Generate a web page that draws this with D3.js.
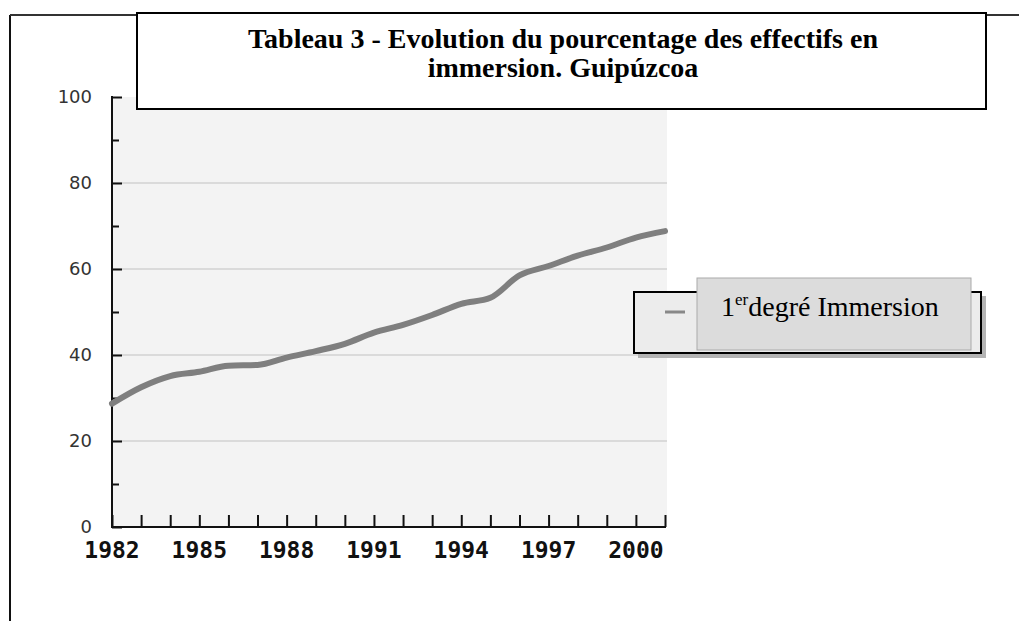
<!DOCTYPE html>
<html>
<head>
<meta charset="utf-8">
<script src="https://cdn.jsdelivr.net/npm/d3@7"></script>
<style>
  body { margin: 0; background: #fff; }
  svg { display: block; }
</style>
</head>
<body>
<div id="chart"></div>
<script>
const years = [1982, 1983, 1984, 1985, 1986, 1987, 1988, 1989, 1990, 1991,
  1992, 1993, 1994, 1995, 1996, 1997, 1998, 1999, 2000, 2001];
const immersion = [28.7, 32.5, 35.1, 36.1, 37.5, 37.7, 39.4, 40.9, 42.6, 45.2,
  47.0, 49.3, 51.9, 53.3, 58.5, 60.7, 63.1, 65.0, 67.3, 68.8];
const yearLabels = [1982, 1985, 1988, 1991, 1994, 1997, 2000];
const yTicks = [0, 20, 40, 60, 80, 100];
const gridValues = [20, 40, 60, 80];
const titleLines = ['Tableau 3 - Evolution du pourcentage des effectifs en', 'immersion. Guipúzcoa'];
const legendLabel = 'degré Immersion';

document.addEventListener('DOMContentLoaded', function(){
  drawChart();
});

function drawChart() {
  const width = 1019, height = 621;
  const plot = {left: 112, right: 665, top: 97, bottom: 527};

  const svg = d3.select('#chart').append('svg')
    .attr('width', width)
    .attr('height', height);

  // page frame
  svg.append('line').attr('x1', 10).attr('x2', 10).attr('y1', 15).attr('y2', height)
    .style('stroke', '#111').style('stroke-width', 2);
  svg.append('line').attr('x1', 10).attr('x2', width).attr('y1', 15).attr('y2', 15)
    .style('stroke', '#333').style('stroke-width', 2);

  const x = d3.scaleLinear().domain([1982, 2001]).range([plot.left, plot.right]);
  const y = d3.scaleLinear().domain([0, 100]).range([plot.bottom, plot.top]);

  // plot background
  svg.append('rect')
    .attr('x', plot.left).attr('y', plot.top)
    .attr('width', plot.right - plot.left + 2).attr('height', plot.bottom - plot.top)
    .style('fill', '#f3f3f3');

  svg.selectAll('.grid')
    .data(gridValues)
    .enter().append('line')
    .attr('class', 'grid')
    .attr('x1', plot.left).attr('x2', plot.right + 2)
    .attr('y1', function(d) { return y(d); })
    .attr('y2', function(d) { return y(d); })
    .style('stroke', '#dadada').style('stroke-width', 2);

  // y axis
  const yAxis = svg.append('g')
    .attr('transform', 'translate(' + plot.left + ',0)')
    .call(d3.axisRight(y).tickValues(d3.range(0, 101, 10)).tickSize(7).tickFormat(''));
  yAxis.select('.domain').remove();
  yAxis.selectAll('.tick line')
    .attr('x2', function(d) { return d % 20 === 0 ? 10 : 7; })
    .style('stroke', '#111').style('stroke-width', 2);
  svg.append('line').attr('x1', plot.left).attr('x2', plot.left)
    .attr('y1', plot.top - 1).attr('y2', plot.bottom)
    .style('stroke', '#111').style('stroke-width', 2);

  svg.selectAll('.ylabel')
    .data(yTicks)
    .enter().append('text')
    .attr('class', 'ylabel')
    .attr('x', 92)
    .attr('y', function(d) { return y(d); })
    .attr('dy', '0.36em')
    .attr('text-anchor', 'end')
    .style('font-family', 'DejaVu Sans')
    .style('font-size', '18px')
    .style('fill', '#333')
    .text(function(d) { return d; });

  // x axis
  const xAxis = svg.append('g')
    .attr('transform', 'translate(0,' + plot.bottom + ')')
    .call(d3.axisTop(x).tickValues(years).tickSize(12).tickFormat(''));
  xAxis.select('.domain').remove();
  xAxis.selectAll('.tick line').style('stroke', '#111').style('stroke-width', 2);
  svg.append('line').attr('x1', plot.left - 1).attr('x2', plot.right + 1)
    .attr('y1', plot.bottom).attr('y2', plot.bottom)
    .style('stroke', '#111').style('stroke-width', 2);

  svg.selectAll('.xlabel')
    .data(yearLabels)
    .enter().append('text')
    .attr('class', 'xlabel')
    .attr('x', function(d) { return x(d); })
    .attr('y', 558)
    .attr('text-anchor', 'middle')
    .style('font-family', 'DejaVu Sans Mono')
    .style('font-weight', 'bold')
    .style('font-size', '23px')
    .style('fill', '#111')
    .text(function(d) { return d; });

  // data line
  const line = d3.line()
    .x(function(d, i) { return x(years[i]); })
    .y(function(d) { return y(d); })
    .curve(d3.curveMonotoneX);
  svg.append('path')
    .datum(immersion)
    .attr('d', line)
    .style('fill', 'none')
    .style('stroke', '#7f7f7f')
    .style('stroke-width', 6)
    .style('stroke-linecap', 'round');

  // title box
  svg.append('rect')
    .attr('x', 137).attr('y', 13).attr('width', 849).attr('height', 96)
    .style('fill', '#fff').style('stroke', '#000').style('stroke-width', 2);
  svg.selectAll('.title')
    .data(titleLines)
    .enter().append('text')
    .attr('class', 'title')
    .attr('x', 563)
    .attr('y', function(d, i) { return 48 + i * 29; })
    .attr('text-anchor', 'middle')
    .style('font-family', 'Liberation Serif')
    .style('font-weight', 'bold')
    .style('font-size', '28px')
    .style('fill', '#000')
    .text(function(d) { return d; });

  // legend
  svg.append('rect')
    .attr('x', 638).attr('y', 296).attr('width', 348).attr('height', 62)
    .style('fill', '#b4b4b4');
  svg.append('rect')
    .attr('x', 634).attr('y', 292).attr('width', 347).attr('height', 61)
    .style('fill', '#ececec').style('stroke', '#000').style('stroke-width', 2);
  svg.append('line')
    .attr('x1', 665).attr('x2', 685).attr('y1', 312).attr('y2', 312)
    .style('stroke', '#888').style('stroke-width', 3);
  svg.append('rect')
    .attr('x', 697).attr('y', 278).attr('width', 274).attr('height', 72)
    .style('fill', '#dcdcdc').style('stroke', '#aaa').style('stroke-width', 1);
  const lt = svg.append('text')
    .attr('x', 721).attr('y', 316)
    .style('font-family', 'Liberation Serif')
    .style('font-size', '28px')
    .style('fill', '#000');
  lt.append('tspan').text('1');
  lt.append('tspan').attr('dy', -11).style('font-size', '17px').text('er');
  lt.append('tspan').attr('dy', 11).text(legendLabel);
}
</script>
</body>
</html>
